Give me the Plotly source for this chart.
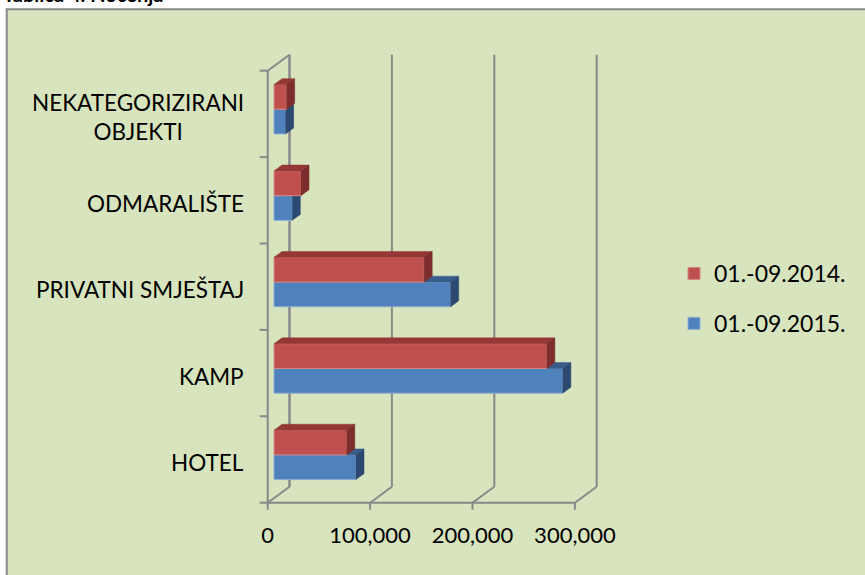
import plotly.graph_objects as go

# ---------------- data ----------------
categories = ["HOTEL", "KAMP", "PRIVATNI SMJEŠTAJ", "ODMARALIŠTE", "NEKATEGORIZIRANI<br>OBJEKTI"]
name_2015 = "01.-09.2015."
name_2014 = "01.-09.2014."
values_2015 = [80000, 282000, 172500, 17800, 11300]
values_2014 = [71000, 266400, 146600, 26300, 12300]
x_ticks = [0, 100000, 200000, 300000]
title_text = "Tablica 4. Noćenja"

# ---------------- geometry ----------------
W, H = 865, 575
PX_PER_X = 1.024 / 1000.0      # pixels per value unit
PX_PER_Y = 86.4                # pixels per category
X0_PX, Y0_PX = 267.7, 502.7    # front-left-bottom corner of the 3D box
PLOT_L, PLOT_R, PLOT_T, PLOT_B = 255, 610, 45, 520

xmin = (PLOT_L - X0_PX) / PX_PER_X
xmax = (PLOT_R - X0_PX) / PX_PER_X
ymin = (Y0_PX - PLOT_B) / PX_PER_Y
ymax = (Y0_PX - PLOT_T) / PX_PER_Y

DX = 21.8 / PX_PER_X           # box depth (x units)
DY = 16.0 / PX_PER_Y           # box depth (y units)
F = 0.29                       # depth of bar front face
G = 0.37                       # bar depth
BAR_H = 1 / 3.5                # gap width 150%
TICK_X = 8 / PX_PER_X
TICK_Y = 7 / PX_PER_Y
NCAT = len(categories)

def pxx(px):
    return (px - PLOT_L) / (PLOT_R - PLOT_L)

def pxy(py):
    return (PLOT_B - py) / (PLOT_B - PLOT_T)

GRID = "#898989"
FONT = "Lato, 'Noto Sans', sans-serif"

base = F * DX
ddx, ddy = G * DX, G * DY
centers = [i + 0.5 + F * DY for i in range(NCAT)]


def faces(vals, lower):
    """top and side polygons of bars; lower=True -> bar below centre line"""
    tx, ty, sx, sy = [], [], [], []
    for c, v in zip(centers, vals):
        y0, y1 = (c - BAR_H, c) if lower else (c, c + BAR_H)
        xe = base + v
        tx += [base, xe, xe + ddx, base + ddx, base, None]
        ty += [y1, y1, y1 + ddy, y1 + ddy, y1, None]
        sx += [xe, xe, xe + ddx, xe + ddx, xe, None]
        sy += [y0, y1, y1 + ddy, y0 + ddy, y0, None]
    return tx, ty, sx, sy


fig = go.Figure()

def add_series(vals, name, rank, lower, front, top, side, edge, xa, ya):
    fig.add_trace(go.Bar(
        y=centers, x=vals, base=base, orientation="h", width=BAR_H,
        offset=-BAR_H if lower else 0, name=name, legendgroup=name, legendrank=rank,
        marker=dict(color=front, line=dict(color=edge, width=1)),
        xaxis=xa, yaxis=ya,
    ))
    tx, ty, sx, sy = faces(vals, lower)
    fig.add_trace(go.Scatter(x=tx, y=ty, fill="toself", mode="lines",
                             line=dict(color=top, width=0.5), fillcolor=top,
                             showlegend=False, hoverinfo="skip", xaxis=xa, yaxis=ya))
    fig.add_trace(go.Scatter(x=sx, y=sy, fill="toself", mode="lines",
                             line=dict(color=side, width=0.5), fillcolor=side,
                             showlegend=False, hoverinfo="skip", xaxis=xa, yaxis=ya))

add_series(values_2015, name_2015, 2, True, "#4F81BD", "#385D8A", "#2C4A71", "#8EADD6", "x", "y")
add_series(values_2014, name_2014, 1, False, "#C0504D", "#953735", "#7D2E2C", "#D58A88", "x2", "y2")

# ---------------- 3D frame ----------------
shapes = []
def line(x0, y0, x1, y1):
    shapes.append(dict(type="line", xref="x", yref="y", x0=x0, y0=y0, x1=x1, y1=y1,
                       line=dict(color=GRID, width=2), layer="below"))

line(0, 0, 0, NCAT)
for k in range(NCAT + 1):
    line(-TICK_X, k, 0, k)
line(0, NCAT, DX, NCAT + DY)
line(DX, DY, DX, NCAT + DY)
line(0, 0, x_ticks[-1], 0)
for t in x_ticks:
    line(t, 0, t, -TICK_Y)
    line(t, 0, t + DX, DY)
    line(t + DX, DY, t + DX, NCAT + DY)

# chart area background with border
shapes.insert(0, dict(type="rect", xref="paper", yref="paper",
                      x0=pxx(6.7), y0=pxy(H + 10), x1=pxx(W + 10), y1=pxy(9.3),
                      fillcolor="#D7E4BD", line=dict(color=GRID, width=2), layer="below"))

annotations = []
for i, c in enumerate(categories):
    annotations.append(dict(text=c, xref="paper", yref="y", x=pxx(246), y=i + 0.5,
                            xanchor="right", yanchor="middle", align="center", showarrow=False,
                            yshift=-3, font=dict(family=FONT, size=22.5, color="#000000")))
annotations.append(dict(text="<b>" + title_text + "</b>", xref="paper", yref="paper",
                        x=pxx(1), y=pxy(8), xanchor="left", yanchor="bottom", showarrow=False,
                        font=dict(family=FONT, size=20, color="#000000")))

fig.update_layout(
    width=W, height=H,
    margin=dict(l=PLOT_L, r=W - PLOT_R, t=PLOT_T, b=H - PLOT_B, pad=0),
    paper_bgcolor="#FFFFFF", plot_bgcolor="rgba(0,0,0,0)",
    barmode="overlay",
    shapes=shapes, annotations=annotations,
    xaxis=dict(range=[xmin, xmax], tickvals=x_ticks, tickformat=",", showgrid=False,
               zeroline=False, showline=False, ticks="",
               tickfont=dict(family=FONT, size=22, color="#000000")),
    yaxis=dict(range=[ymin, ymax], showticklabels=False, showgrid=False, zeroline=False,
               showline=False, ticks=""),
    xaxis2=dict(range=[xmin, xmax], overlaying="x", anchor="y2", visible=False),
    yaxis2=dict(range=[ymin, ymax], overlaying="y", anchor="x2", visible=False),
    legend=dict(x=pxx(674), y=pxy(252), xanchor="left", yanchor="top",
                traceorder="grouped", tracegroupgap=17, itemwidth=30,
                bgcolor="rgba(0,0,0,0)", font=dict(family=FONT, size=23, color="#000000")),
    showlegend=True,
)

fig.write_html("out.html", config={"displayModeBar": False},
               post_script="document.body.style.margin='0px';")
